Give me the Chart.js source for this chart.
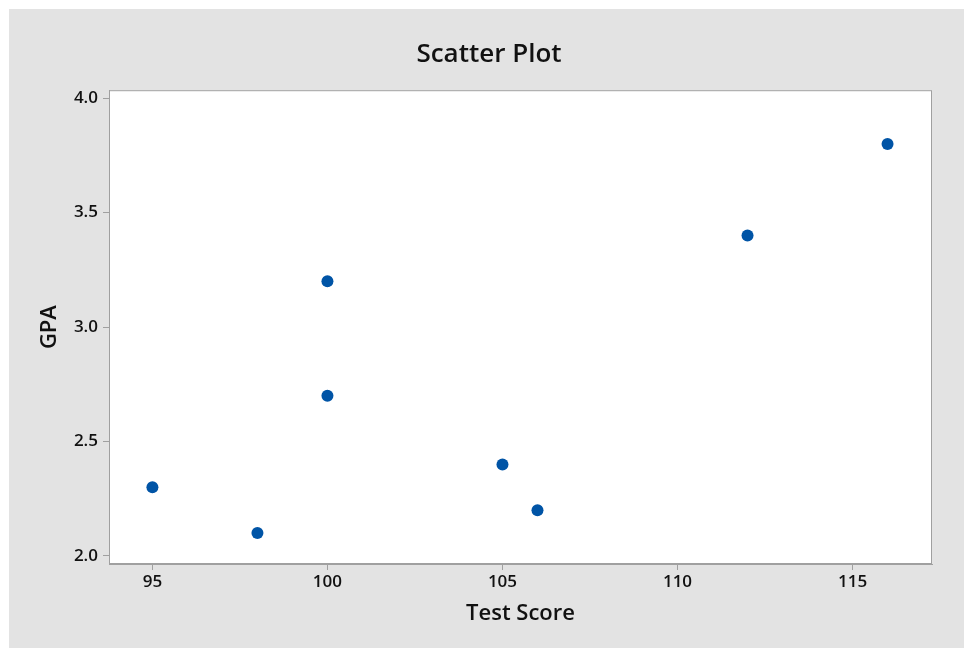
<!DOCTYPE html>
<html>
<head>
<meta charset="utf-8">
<script src="https://cdn.jsdelivr.net/npm/chart.js@4/dist/chart.umd.min.js"></script>
<style>
  html, body { margin: 0; padding: 0; background: #ffffff; }
  #wrap { position: absolute; left: 9px; top: 9px; width: 955px; height: 639px; background: #e3e3e3; }
  canvas { display: block; }
</style>
</head>
<body>
<div id="wrap"><canvas id="c" width="955" height="639"></canvas></div>
<script>
const testScores = [95, 98, 100, 100, 105, 106, 112, 116];
const gpaValues  = [2.3, 2.1, 3.2, 2.7, 2.4, 2.2, 3.4, 3.8];
const xTicks = [95, 100, 105, 110, 115];
const yTicks = [2.0, 2.5, 3.0, 3.5, 4.0];
const chartTitle = 'Scatter Plot';
const xTitle = 'Test Score';
const yTitle = 'GPA';

const points = testScores.map((x, i) => ({ x: x, y: gpaValues[i] }));

const plotAreaPlugin = {
  id: 'plotArea',
  beforeDraw(chart) {
    const { ctx, chartArea: a } = chart;
    ctx.save();
    ctx.fillStyle = '#ffffff';
    ctx.fillRect(a.left, a.top, a.right - a.left, a.bottom - a.top);
    ctx.restore();
  },
  afterDraw(chart) {
    const { ctx, chartArea: a } = chart;
    ctx.save();
    ctx.strokeStyle = '#a0a0a0';
    ctx.lineWidth = 1;
    ctx.strokeRect(a.left + 0.5, a.top + 0.5, a.right - a.left - 1, a.bottom - a.top - 1);
    ctx.restore();
  }
};

const FONT = '"Open Sans", "Noto Sans", sans-serif';

new Chart(document.getElementById('c'), {
  type: 'scatter',
  data: {
    datasets: [{
      data: points,
      backgroundColor: '#0054a6',
      borderColor: '#0054a6',
      pointRadius: 6,
      pointHoverRadius: 6,
      borderWidth: 0
    }]
  },
  options: {
    responsive: false,
    animation: false,
    devicePixelRatio: 1,
    layout: { padding: { left: 5, right: 0, top: 0, bottom: 0 } },
    plugins: {
      legend: { display: false },
      tooltip: { enabled: false },
      title: {
        display: true,
        text: chartTitle,
        color: '#111111',
        font: { family: FONT, size: 26, weight: '600' },
        padding: { top: 30, bottom: 20 }
      }
    },
    scales: {
      x: {
        type: 'linear',
        min: 93.76,
        max: 117.27,
        afterBuildTicks(scale) { scale.ticks = xTicks.map(v => ({ value: v })); },
        afterFit(scale) { scale.height = 84; },
        grid: { drawOnChartArea: false, drawTicks: true, tickLength: 6, color: '#a0a0a0' },
        border: { display: true, color: '#a0a0a0' },
        ticks: {
          color: '#111111',
          padding: 2,
          font: { family: FONT, size: 17, weight: '600' },
          callback: v => String(v)
        },
        title: {
          display: true,
          text: xTitle,
          color: '#111111',
          font: { family: FONT, size: 22, weight: '600' },
          padding: { top: 0, bottom: 21 }
        }
      },
      y: {
        type: 'linear',
        min: 1.965,
        max: 4.035,
        afterBuildTicks(scale) { scale.ticks = yTicks.map(v => ({ value: v })); },
        afterFit(scale) { scale.width = 95; },
        grid: { drawOnChartArea: false, drawTicks: true, tickLength: 6, color: '#a0a0a0' },
        border: { display: true, color: '#a0a0a0' },
        ticks: {
          color: '#111111',
          padding: 5,
          font: { family: FONT, size: 17, weight: '600' },
          callback: v => Number(v).toFixed(1)
        },
        title: {
          display: true,
          text: yTitle,
          color: '#111111',
          font: { family: FONT, size: 22, weight: '600' },
          padding: { top: 23, bottom: 0 }
        }
      },
      yRight: {
        type: 'linear',
        position: 'right',
        min: 1.965,
        max: 4.035,
        afterFit(scale) { scale.width = 32; },
        grid: { display: false, drawTicks: false },
        border: { display: false },
        ticks: { display: false }
      }
    }
  },
  plugins: [plotAreaPlugin]
});
</script>
</body>
</html>
